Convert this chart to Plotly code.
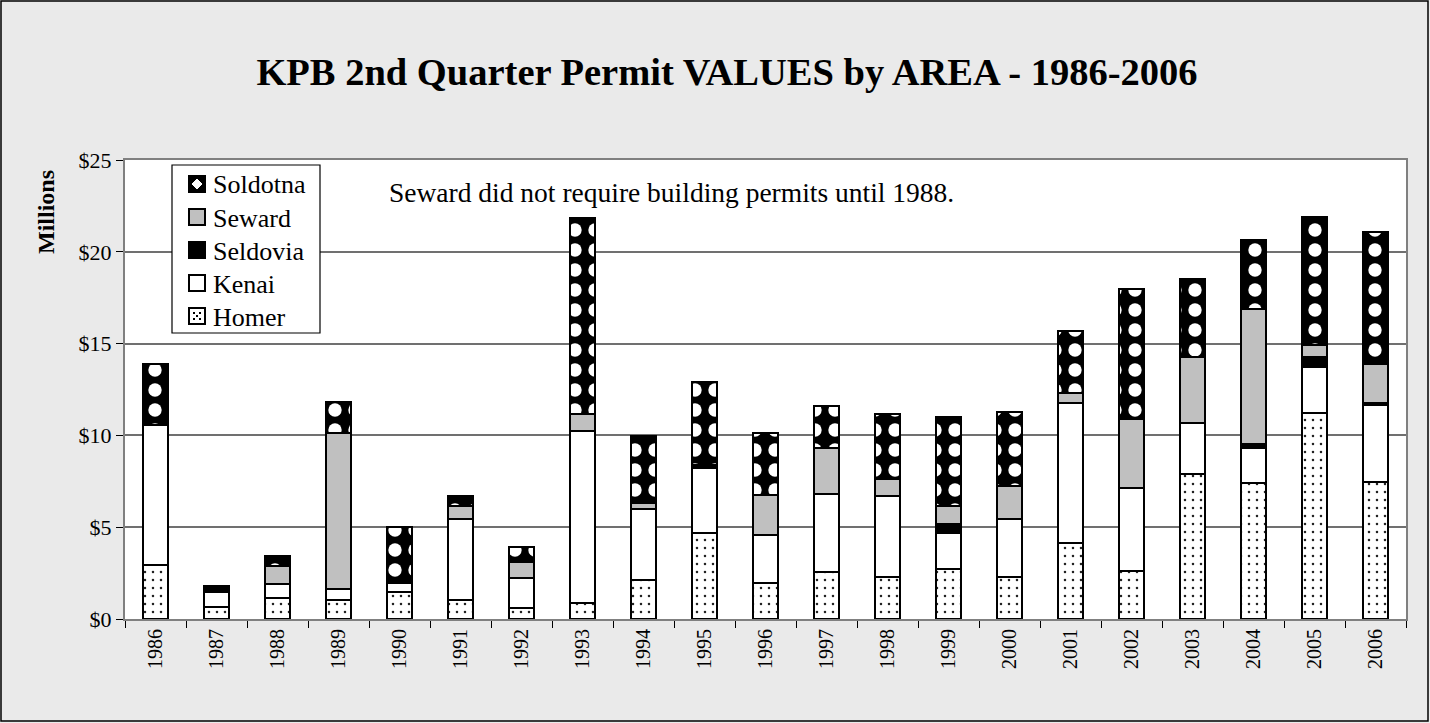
import plotly.graph_objects as go

years = [str(y) for y in range(1986, 2007)]
homer = [2.95, 0.64, 1.13, 1.05, 1.45, 1.01, 0.60, 0.87, 2.13, 4.70, 1.95, 2.55, 2.27, 2.73, 2.27, 4.15, 2.59, 7.92, 7.41, 11.23, 7.48]
kenai = [7.60, 0.81, 0.76, 0.60, 0.50, 4.41, 1.64, 9.36, 3.86, 3.50, 2.60, 4.27, 4.42, 1.96, 3.18, 7.61, 4.57, 2.77, 1.92, 2.50, 4.17]
seldovia = [0.00, 0.33, 0.00, 0.00, 0.05, 0.00, 0.00, 0.00, 0.02, 0.10, 0.00, 0.00, 0.00, 0.46, 0.00, 0.00, 0.00, 0.00, 0.20, 0.55, 0.10]
seward = [0.00, 0.00, 0.98, 8.50, 0.15, 0.72, 0.86, 0.93, 0.33, 0.10, 2.21, 2.49, 0.91, 1.00, 1.79, 0.55, 3.76, 3.59, 7.35, 0.67, 2.16]
soldotna = [3.35, 0.00, 0.55, 1.65, 2.85, 0.54, 0.80, 10.70, 3.61, 4.50, 3.39, 2.31, 3.56, 4.85, 4.03, 3.36, 7.07, 4.25, 3.77, 6.92, 7.19]
legend_names = ["Soldotna", "Seward", "Seldovia", "Kenai", "Homer"]

FONT = "Liberation Serif"
W, H = 1430, 723
L, R, T, B = 125, 24, 160, 104
pw = W - L - R
ph = H - T - B


def px(x):
    return (x - L) / pw


def py(y):
    return (H - B - y) / ph


fig = go.Figure()
line = dict(color="black", width=2)
fig.add_trace(go.Bar(name="Homer", x=years, y=homer,
                     marker=dict(color="white", line=line,
                                 pattern=dict(shape=".", fgcolor="#222222", bgcolor="white", fgopacity=1,
                                              size=8, solidity=0.08))))
fig.add_trace(go.Bar(name="Kenai", x=years, y=kenai, marker=dict(color="white", line=line)))
fig.add_trace(go.Bar(name="Seldovia", x=years, y=seldovia, marker=dict(color="black", line=line)))
fig.add_trace(go.Bar(name="Seward", x=years, y=seward, marker=dict(color="#C0C0C0", line=line)))
fig.add_trace(go.Bar(name="Soldotna", x=years, y=soldotna,
                     marker=dict(color="black", line=line,
                                 pattern=dict(shape=".", fgcolor="white", bgcolor="black", fgopacity=1,
                                              size=20, solidity=0.35))))

# custom legend (box, symbols, labels) in pixel-derived paper coordinates
shapes = [dict(type="rect", xref="paper", yref="paper",
               x0=px(1), x1=px(W - 2), y0=py(H - 2), y1=py(1),
               line=dict(color="black", width=1.5), layer="below"),
          dict(type="rect", xref="paper", yref="paper",
               x0=px(172), x1=px(320), y0=py(333), y1=py(165),
               fillcolor="white", line=dict(color="black", width=1.2))]
annotations = []
fills = {"Soldotna": "black", "Seward": "#C0C0C0", "Seldovia": "black", "Kenai": "white", "Homer": "white"}
for i, name in enumerate(legend_names):
    cy = 184 + 33 * i
    shapes.append(dict(type="rect", xref="paper", yref="paper",
                       x0=px(189), x1=px(205), y0=py(cy + 8), y1=py(cy - 8),
                       fillcolor=fills[name], line=dict(color="black", width=2)))
    if name == "Soldotna":
        cx = 197
        path = (f"M {px(cx)},{py(cy - 5)} L {px(cx + 5)},{py(cy)} "
                f"L {px(cx)},{py(cy + 5)} L {px(cx - 5)},{py(cy)} Z")
        shapes.append(dict(type="path", xref="paper", yref="paper", path=path,
                           fillcolor="white", line=dict(color="white", width=1)))
    if name == "Homer":
        for dx, dy in [(-3, -3), (3, -3), (0, 0), (-3, 3), (3, 3)]:
            shapes.append(dict(type="rect", xref="paper", yref="paper",
                               x0=px(197 + dx - 1), x1=px(197 + dx + 1),
                               y0=py(cy + dy + 1), y1=py(cy + dy - 1),
                               fillcolor="black", line=dict(width=0)))
    annotations.append(dict(text=name, xref="paper", yref="paper", x=px(211), y=py(cy + 1),
                            xanchor="left", yanchor="middle", showarrow=False,
                            font=dict(family=FONT, size=26)))

annotations += [
    dict(text="Seward did not require building permits until 1988.", xref="paper", yref="paper",
         x=px(387), y=py(192), xanchor="left", yanchor="middle", showarrow=False,
         font=dict(family=FONT, size=27.5)),
    dict(text="<b>Millions</b>", xref="paper", yref="paper", textangle=-90,
         x=px(46), y=py(212), xanchor="center", yanchor="middle", showarrow=False,
         font=dict(family=FONT, size=24)),
]

fig.update_layout(
    width=W, height=H, showlegend=False,
    barmode="stack", bargap=0.59,
    paper_bgcolor="#EAEAEA", plot_bgcolor="white",
    margin=dict(l=L, r=R, t=T, b=B),
    font=dict(family=FONT, color="black", size=20),
    title=dict(text="<b>KPB 2nd Quarter Permit VALUES by AREA - 1986-2006</b>",
               x=px(727), xref="paper", xanchor="center", y=1 - 72 / H, yanchor="middle",
               font=dict(family=FONT, size=38.5, color="black")),
    xaxis=dict(type="category", tickangle=-90, ticks="outside", ticklen=7, tickcolor="black",
               tickson="boundaries", showline=True, linecolor="#808080", linewidth=2, mirror=True,
               tickfont=dict(family=FONT, size=20)),
    yaxis=dict(range=[0, 25], dtick=5, tickprefix="$", ticks="outside", ticklen=7, tickcolor="black",
               showgrid=True, gridcolor="#707070", gridwidth=1.5,
               showline=True, linecolor="#808080", linewidth=2, mirror=True, zeroline=False,
               tickfont=dict(family=FONT, size=22)),
    annotations=annotations,
    shapes=shapes,
)

fig.write_html("out.html", config={"displayModeBar": False},
               post_script="document.body.style.margin='0';document.body.style.overflow='hidden';")
